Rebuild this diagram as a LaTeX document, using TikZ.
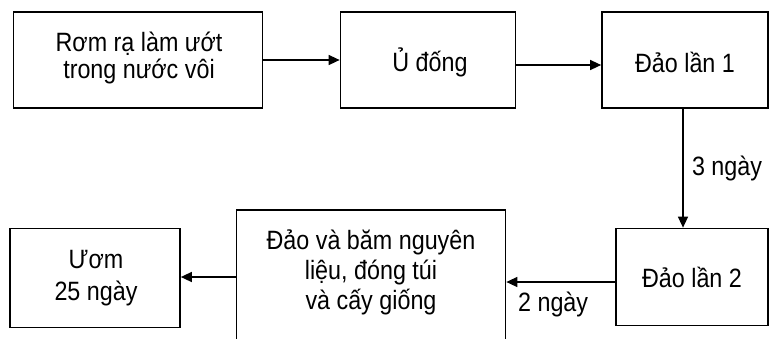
\documentclass[tikz,border=0pt]{standalone}
\usepackage{fontspec}
\setmainfont[FakeStretch=0.88]{Liberation Sans}
\usetikzlibrary{arrows.meta}
\begin{document}
\begin{tikzpicture}[x=1pt,y=-1pt,
  box/.style={draw,line width=1.7pt,inner sep=0pt},
  txt/.style={font=\fontsize{26.5}{27}\selectfont,align=center},
  flow/.style={line width=1.4pt,-{Triangle[length=11pt,width=10pt]}},
  lbl/.style={font=\fontsize{26.5}{27}\selectfont}]
\useasboundingbox (0,0) rectangle (770,338);
\clip (0,0) rectangle (770,338);
% process boxes
\node[box,minimum width=249pt,minimum height=96pt] (soak) at (138,60) {};
\node[txt] (soaktext) at (139,58) {Rơm rạ làm ướt\\trong nước vôi};
\node[box,minimum width=175pt,minimum height=96pt] (pile) at (428,60) {};
\node[txt] (piletext) at (430,62) {Ủ đống};
\node[box,minimum width=166pt,minimum height=96pt] (turn1) at (685,60) {};
\node[txt] (turn1text) at (685,62) {Đảo lần 1};
\node[box,minimum width=152pt,minimum height=97pt] (turn2) at (692,277) {};
\node[txt] (turn2text) at (692,277) {Đảo lần 2};
% tall box running off the lower edge
\node[box,minimum width=269pt,minimum height=160pt,anchor=north] (mix) at (371,209) {};
\node[txt,font=\fontsize{26.5}{30}\selectfont] (mixtext) at (371,272) {Đảo và băm nguyên\\liệu, đóng túi\\và cấy giống};
\node[box,minimum width=170pt,minimum height=99pt] (grow) at (95,278) {};
\node[txt,font=\fontsize{26.5}{32}\selectfont] (growtext) at (96,278) {Ươm\\25 ngày};
% connectors
\draw[flow] (soak.east) -- (pile.west);
\draw[flow] (pile.east |- 0,65) -- (turn1.west |- 0,65);
\draw[flow] (turn1.south -| 683,0) -- node[lbl,right=5pt] {3 ngày} (turn2.north -| 683,0);
\draw[flow] (turn2.west |- 0,282) -- node[lbl,pos=0.57,below=6pt] {2 ngày} (mix.east |- 0,282);
\draw[flow] (mix.west |- 0,277) -- (grow.east |- 0,277);
\end{tikzpicture}
\end{document}
